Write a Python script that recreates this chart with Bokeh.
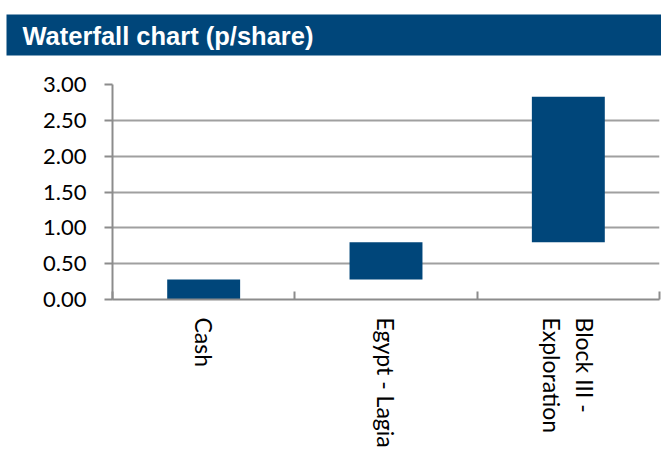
import math
from bokeh.plotting import figure
from bokeh.models import Range1d, FixedTicker, NumeralTickFormatter, ColumnDataSource, LinearAxis, Title
from bokeh.embed import file_html
from bokeh.resources import INLINE

# ---- data ----
categories = ["Cash", "Egypt - Lagia", "Block III -\nExploration"]
increments = [0.28, 0.52, 2.03]
y_ticks = [0.0, 0.5, 1.0, 1.5, 2.0, 2.5, 3.0]
title_text = "Waterfall chart (p/share)"

NAVY = "#00467A"
GRID = "#a0a0a0"
AXIS = "#8c8c8c"

bottoms, tops = [], []
run = 0.0
for v in increments:
    bottoms.append(run)
    run += v
    tops.append(run)
n = len(categories)
src = ColumnDataSource(dict(
    left=[i + 0.3 for i in range(n)], right=[i + 0.7 for i in range(n)],
    bottom=bottoms, top=tops))

p = figure(frame_width=547, frame_height=215, output_backend="svg", toolbar_location=None,
           x_range=Range1d(0, n), y_range=Range1d(0, 3), title_location=None,
           min_border_left=112, min_border_right=2, min_border_top=84, min_border_bottom=150)
p.outline_line_color = None
p.background_fill_color = "white"

xa = p.below[0]
ya = p.left[0]

# invisible spacer axis between the banner and the plot area (closest to the frame)
spacer = LinearAxis(ticker=FixedTicker(ticks=[1.5]), axis_line_color=None,
                    major_tick_line_color=None, minor_tick_line_color=None,
                    major_tick_out=27, major_tick_in=0, minor_tick_out=0, minor_tick_in=0,
                    major_label_standoff=0, major_label_text_font_size="0px",
                    major_label_overrides={1.5: ""})
p.add_layout(spacer, "above")

# banner: title with navy background, stacked above the spacer
banner = Title(text=title_text, align="left", offset=-106, standoff=4,
               text_color="white", text_font="Liberation Sans", text_font_style="bold",
               text_font_size="25.5px", background_fill_color=NAVY, background_fill_alpha=1.0,
               padding=dict(left=16, right=360, top=7, bottom=6))
p.add_layout(banner, "above")

p.quad(left="left", right="right", bottom="bottom", top="top", source=src,
       fill_color=NAVY, line_color=None)

p.xgrid.visible = False
p.ygrid.ticker = FixedTicker(ticks=y_ticks)
p.ygrid.grid_line_color = GRID
p.ygrid.grid_line_width = 2

ya.ticker = FixedTicker(ticks=y_ticks)
ya.formatter = NumeralTickFormatter(format="0.00")
ya.axis_line_color = AXIS
ya.axis_line_width = 2
ya.major_tick_line_color = AXIS
ya.major_tick_line_width = 2
ya.major_tick_in = 0
ya.major_tick_out = 8
ya.minor_tick_line_color = None
ya.major_label_text_font = "Lato"
ya.major_label_text_font_size = "22px"
ya.major_label_text_color = "black"
ya.major_label_standoff = 18

xa.ticker = FixedTicker(ticks=[i + 0.5 for i in range(n)], minor_ticks=list(range(n + 1)))
xa.major_label_overrides = {i + 0.5: c for i, c in enumerate(categories)}
xa.axis_line_color = AXIS
xa.axis_line_width = 2
xa.major_tick_in = 0
xa.major_tick_out = 0
xa.minor_tick_line_color = AXIS
xa.minor_tick_line_width = 2
xa.minor_tick_in = 8
xa.minor_tick_out = 0
xa.major_label_orientation = -math.pi / 2
xa.major_label_text_font = "Lato"
xa.major_label_text_font_size = "23px"
xa.major_label_text_color = "black"
xa.major_label_standoff = 18

open("out.html", "w").write(file_html(p, INLINE))
